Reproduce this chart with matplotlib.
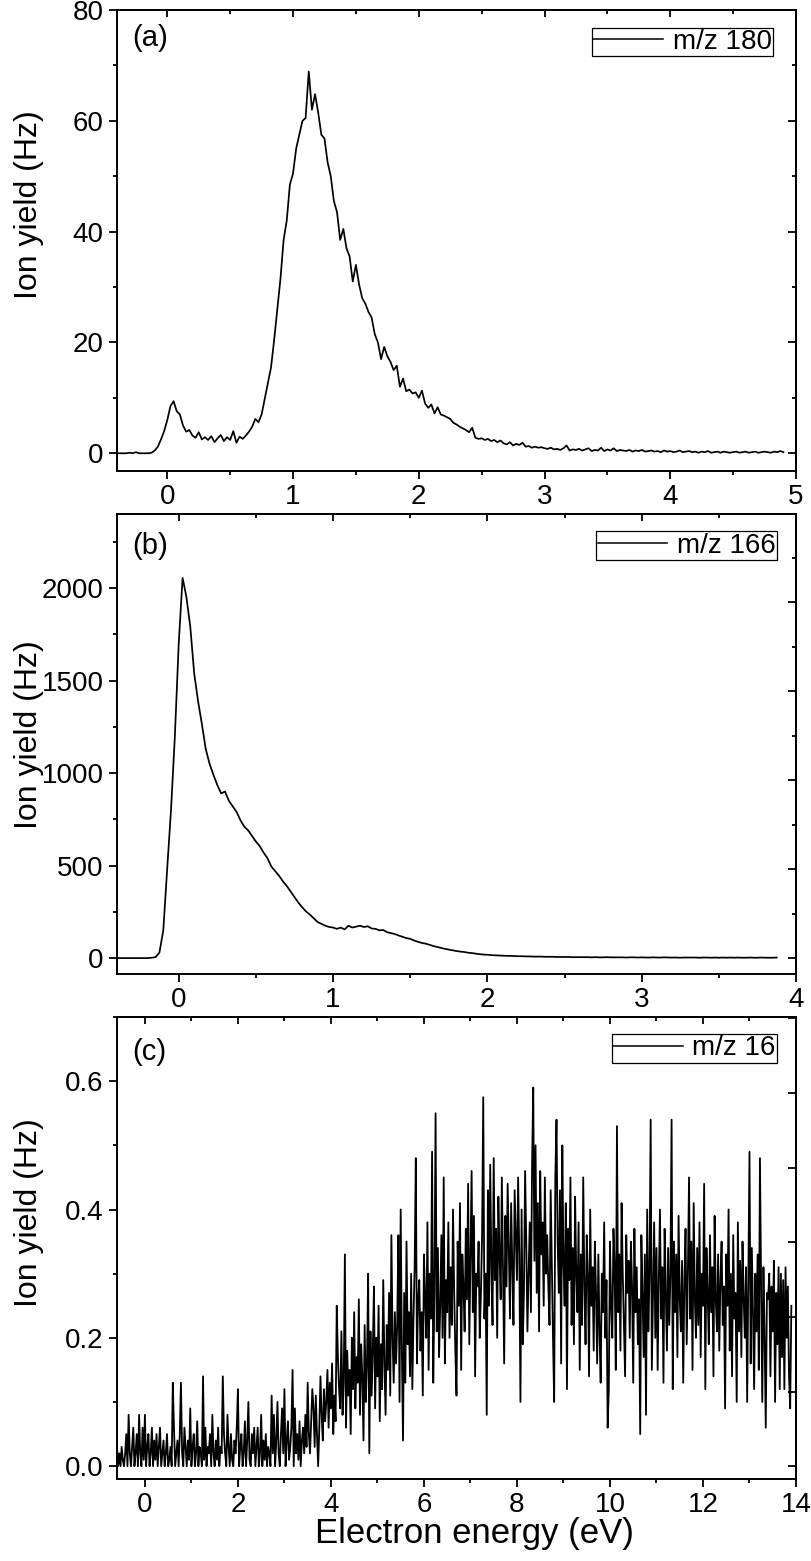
import numpy as np
import matplotlib
matplotlib.use('Agg')
import matplotlib.pyplot as plt
from matplotlib.ticker import MultipleLocator, NullFormatter

plt.rcParams['font.family'] = ['Liberation Sans', 'DejaVu Sans']

# ---------------- data ----------------
# panel (a): m/z 180, energy grid start/step (eV)
a_start, a_step = -0.4, 0.025
a_yield = [
    0, 0, 0, 0, 0.1, 0, 0.2, 0, 0, 0,
    0, 0.1, 0.5, 1.2, 2.5, 4.0, 6.0, 8.5, 9.4, 7.6,
    7.0, 5.0, 3.9, 4.2, 3.2, 2.8, 3.8, 2.5, 2.9, 2.4,
    3.1, 2.0, 2.7, 3.3, 2.2, 2.9, 2.4, 4.0, 1.9, 3.0,
    2.6, 3.2, 3.9, 4.8, 6.2, 5.6, 7.0, 9.8, 12.5, 15.5,
    20.5, 26.0, 31.5, 38.5, 42.0, 48.5, 50.5, 55.0, 57.5, 60.0,
    60.5, 68.9, 62.0, 64.8, 61.5, 57.5, 56.8, 52.5, 50.0, 45.5,
    43.5, 38.5, 40.5, 37.0, 35.5, 31.0, 34.0, 30.5, 28.0, 27.0,
    25.5, 24.5, 21.5, 20.0, 17.0, 19.2, 17.5, 16.5, 15.0, 15.8,
    12.0, 13.5, 11.2, 11.5, 10.8, 11.0, 10.0, 11.3, 9.0, 8.2,
    8.8, 7.2, 8.3, 7.0, 6.8, 6.5, 6.2, 5.5, 5.2, 4.8,
    4.5, 4.2, 3.8, 4.6, 2.8, 2.6, 2.7, 2.4, 2.6, 2.2,
    2.4, 2.0, 2.3, 1.8, 1.6, 2.0, 1.4, 1.7, 1.5, 1.9,
    1.2, 1.3, 1.0, 1.2, 1.0, 1.1, 0.9, 0.8, 1.0, 0.7,
    0.8, 0.6, 0.9, 1.4, 0.5, 0.7, 0.6, 0.8, 0.5, 0.7,
    0.9, 0.4, 0.6, 0.5, 1.0, 0.4, 0.7, 0.5, 0.9, 0.4,
    0.6, 0.5, 0.4, 0.6, 0.3, 0.5, 0.4, 0.6, 0.3, 0.4,
    0.5, 0.3, 0.4, 0.2, 0.5, 0.3, 0.4, 0.2, 0.3, 0.5,
    0.2, 0.3, 0.4, 0.2, 0.3, 0.1, 0.3, 0.2, 0.4, 0.1,
    0.2, 0.3, 0.1, 0.3, 0.2, 0.1, 0.2, 0.3, 0.1, 0.2,
    0.3, 0.1, 0.2, 0.3, 0.1, 0.2, 0.3, 0.2, 0.1, 0.3,
    0.2, 0.4, 0.2,
]

# panel (b): m/z 166
b_start, b_step = -0.4, 0.025
b_yield = [
    0, 0, 0, 0, 0, 0, 0, 0, 0, 2,
    5, 30, 150, 480, 800, 1200, 1700, 2055, 1950, 1790,
    1540, 1390, 1265, 1130, 1050, 990, 935, 890, 900, 850,
    820, 790, 745, 710, 690, 660, 630, 605, 570, 540,
    495, 470, 445, 415, 390, 360, 330, 300, 275, 252,
    235, 215, 195, 185, 175, 168, 165, 158, 165, 155,
    175, 165, 170, 175, 168, 172, 160, 158, 150, 152,
    140, 135, 130, 122, 115, 108, 104, 95, 88, 82,
    78, 72, 65, 60, 55, 50, 46, 42, 38, 35,
    33, 29, 27, 24, 21, 19, 18, 16, 15, 14,
    13, 12, 12, 11, 10, 10, 9, 9, 8, 8,
    8, 7, 7, 7, 6, 6, 6, 6, 5, 5,
    5, 5, 5, 4, 5, 4, 4, 5, 4, 4,
    4, 4, 3, 4, 4, 3, 4, 3, 3, 4,
    3, 3, 4, 3, 3, 3, 2, 3, 3, 3,
    3, 2, 3, 3, 2, 3, 2, 3, 2, 3,
    2, 3, 2, 2, 3, 2, 2, 3, 2, 2,
    2, 3,
]

# panel (c): m/z 16  (one row = 0.5 eV)
c_start, c_step = -0.6, 0.025
c_yield = [
    0.03, 0, 0.02, 0, 0.03, 0.01, 0, 0.02, 0.05, 0, 0.08, 0.02, 0, 0.03, 0.06, 0, 0.02, 0.05, 0, 0.08,
    0.02, 0, 0.06, 0.01, 0.08, 0, 0.03, 0.05, 0, 0.02, 0.06, 0, 0.04, 0.01, 0.05, 0, 0.03, 0.06, 0, 0.02,
    0.04, 0, 0.02, 0.05, 0, 0.01, 0.03, 0, 0.13, 0.06, 0, 0.02, 0.04, 0, 0.05, 0.13, 0.02, 0, 0.06, 0.03,
    0, 0.04, 0.01, 0.09, 0, 0.03, 0.05, 0, 0.02, 0.07, 0, 0.03, 0.02, 0, 0.14, 0.01, 0.06, 0, 0.03, 0.02,
    0.05, 0, 0.08, 0.02, 0, 0.04, 0.01, 0.06, 0, 0.03, 0.02, 0.14, 0.05, 0.02, 0, 0.08, 0.03, 0, 0.05, 0.01,
    0, 0.04, 0.02, 0.06, 0.12, 0, 0.03, 0.05, 0, 0.02, 0.07, 0, 0.04, 0.10, 0.01, 0, 0.05, 0.02, 0.06, 0,
    0.03, 0.06, 0, 0.02, 0.08, 0, 0.04, 0.01, 0.05, 0, 0.03, 0.02, 0, 0.11, 0.02, 0.08, 0, 0.04, 0.10, 0.02,
    0, 0.05, 0.09, 0.02, 0.12, 0, 0.04, 0.07, 0.01, 0.03, 0.06, 0.15, 0, 0.09, 0.02, 0.05, 0.01, 0.07, 0, 0.04,
    0.06, 0.02, 0.08, 0.03, 0.13, 0.05, 0.02, 0.07, 0.12, 0.09, 0.03, 0.11, 0.05, 0, 0.06, 0.14, 0.08, 0.04, 0.12, 0.07,
    0.10, 0.15, 0.06, 0.13, 0.09, 0.16, 0.05, 0.11, 0.07, 0.25, 0.17, 0.12, 0.09, 0.21, 0.08, 0.13, 0.33, 0.06, 0.18, 0.11,
    0.15, 0.05, 0.20, 0.12, 0.24, 0.09, 0.17, 0.13, 0.26, 0.08, 0.19, 0.14, 0.04, 0.22, 0.10, 0.16, 0.30, 0.02, 0.21, 0.11,
    0.18, 0.28, 0.09, 0.20, 0.14, 0.25, 0.07, 0.19, 0.12, 0.29, 0.16, 0.08, 0.22, 0.15, 0.27, 0.11, 0.36, 0.20, 0.13, 0.24,
    0.16, 0.22, 0.36, 0.10, 0.40, 0.18, 0.04, 0.27, 0.13, 0.35, 0.19, 0.24, 0.14, 0.30, 0.12, 0.23, 0.31, 0.48, 0.16, 0.26,
    0.29, 0.18, 0.24, 0.11, 0.33, 0.26, 0.20, 0.38, 0.15, 0.30, 0.23, 0.49, 0.13, 0.27, 0.55, 0.21, 0.34, 0.17, 0.25, 0.36,
    0.20, 0.45, 0.16, 0.29, 0.24, 0.38, 0.20, 0.31, 0.22, 0.40, 0.27, 0.18, 0.11, 0.35, 0.25, 0.41, 0.15, 0.33, 0.28, 0.21,
    0.37, 0.26, 0.44, 0.19, 0.32, 0.46, 0.24, 0.39, 0.14, 0.30, 0.28, 0.35, 0.20, 0.27, 0.36, 0.575, 0.23, 0.30, 0.08, 0.43,
    0.25, 0.47, 0.31, 0.22, 0.48, 0.29, 0.37, 0.20, 0.42, 0.33, 0.26, 0.45, 0.30, 0.16, 0.39, 0.28, 0.44, 0.34, 0.23, 0.41,
    0.31, 0.22, 0.43, 0.36, 0.29, 0.45, 0.33, 0.10, 0.40, 0.19, 0.27, 0.46, 0.35, 0.21, 0.30, 0.38, 0.24, 0.47, 0.59, 0.32,
    0.50, 0.27, 0.41, 0.21, 0.46, 0.33, 0.38, 0.25, 0.45, 0.30, 0.36, 0.28, 0.22, 0.43, 0.31, 0.20, 0.10, 0.45, 0.54, 0.35,
    0.27, 0.43, 0.16, 0.50, 0.32, 0.25, 0.41, 0.12, 0.37, 0.29, 0.45, 0.22, 0.34, 0.19, 0.42, 0.30, 0.24, 0.38, 0.15, 0.33,
    0.22, 0.45, 0.28, 0.19, 0.36, 0.30, 0.14, 0.40, 0.25, 0.31, 0.18, 0.35, 0.27, 0.16, 0.33, 0.21, 0.13, 0.30, 0.24, 0.38,
    0.20, 0.29, 0.06, 0.12, 0.35, 0.25, 0.20, 0.37, 0.31, 0.15, 0.53, 0.24, 0.33, 0.18, 0.41, 0.30, 0.22, 0.14, 0.36, 0.27,
    0.32, 0.20, 0.35, 0.28, 0.13, 0.37, 0.24, 0.31, 0.19, 0.26, 0.05, 0.36, 0.27, 0.17, 0.33, 0.08, 0.40, 0.21, 0.30, 0.54,
    0.15, 0.26, 0.38, 0.20, 0.34, 0.15, 0.29, 0.40, 0.23, 0.31, 0.13, 0.37, 0.27, 0.18, 0.34, 0.22, 0.30, 0.54, 0.12, 0.35,
    0.24, 0.33, 0.17, 0.39, 0.26, 0.21, 0.32, 0.13, 0.29, 0.37, 0.19, 0.30, 0.45, 0.23, 0.35, 0.15, 0.41, 0.26, 0.20, 0.34,
    0.22, 0.38, 0.17, 0.30, 0.25, 0.44, 0.12, 0.34, 0.27, 0.19, 0.36, 0.24, 0.31, 0.14, 0.39, 0.26, 0.21, 0.33, 0.18, 0.29,
    0.35, 0.22, 0.28, 0.09, 0.33, 0.25, 0.40, 0.18, 0.30, 0.14, 0.36, 0.23, 0.27, 0.10, 0.38, 0.21, 0.32, 0.17, 0.35, 0.26,
    0.20, 0.31, 0.10, 0.29, 0.49, 0.16, 0.34, 0.24, 0.12, 0.30, 0.21, 0.33, 0.15, 0.48, 0.28, 0.10, 0.31, 0.20, 0.06, 0.27,
    0.26, 0.30, 0.14, 0.28, 0.21, 0.32, 0.10, 0.27, 0.19, 0.31, 0.12, 0.30, 0.17, 0.29, 0.12, 0.31, 0.20, 0.28, 0.14, 0.09,
    0.25,
]

legend_labels = ['m/z 180', 'm/z 166', 'm/z 16']
panel_tags = ['(a)', '(b)', '(c)']
y_label = 'Ion yield (Hz)'
x_label = 'Electron energy (eV)'

# ---------------- figure ----------------
W, H = 812, 1561
fig = plt.figure(figsize=(W / 100, H / 100), dpi=100)


def make_axes(left, right, top, bottom):
    return fig.add_axes([left / W, 1 - bottom / H, (right - left) / W, (bottom - top) / H])


ax_a = make_axes(117, 796, 10, 471)
ax_b = make_axes(117, 796, 514, 974)
ax_c = make_axes(117, 796, 1017, 1479)

TICK_FS = 20
LW_SPINE = 1.4


def style(ax, xmaj, xmin, ymaj, ymin, right_scale, rmaj, rmin):
    for s in ax.spines.values():
        s.set_linewidth(LW_SPINE)
    ax.xaxis.set_major_locator(MultipleLocator(xmaj))
    ax.xaxis.set_minor_locator(MultipleLocator(xmin))
    ax.yaxis.set_major_locator(MultipleLocator(ymaj))
    ax.yaxis.set_minor_locator(MultipleLocator(ymin))
    ax.tick_params(which='both', direction='out', top=False, right=False,
                   width=1.3, labelsize=TICK_FS)
    ax.tick_params(which='major', length=5.5, pad=4)
    ax.tick_params(which='minor', length=2.8)
    # top: inward ticks, no labels
    sx = ax.secondary_xaxis('top')
    sx.xaxis.set_major_locator(MultipleLocator(xmaj))
    sx.xaxis.set_minor_locator(MultipleLocator(xmin))
    sx.xaxis.set_major_formatter(NullFormatter())
    sx.tick_params(which='both', direction='in', width=1.3)
    sx.tick_params(which='major', length=5.0)
    sx.tick_params(which='minor', length=2.8)
    sx.spines['top'].set_linewidth(LW_SPINE)
    # right: inward ticks, no labels
    sy = ax.secondary_yaxis('right', functions=(lambda v: v / right_scale,
                                                lambda v: v * right_scale))
    sy.yaxis.set_major_locator(MultipleLocator(rmaj))
    if rmin:
        sy.yaxis.set_minor_locator(MultipleLocator(rmin))
    sy.yaxis.set_major_formatter(NullFormatter())
    sy.tick_params(which='both', direction='in', width=1.3)
    sy.tick_params(which='major', length=5.5)
    sy.tick_params(which='minor', length=2.8)
    sy.spines['right'].set_linewidth(LW_SPINE)


def draw(ax, start, step, values, label, tag, tag_y, leg_anchor, ylab_y, lw):
    vals = np.asarray(values, dtype=float)
    energy = start + step * np.arange(len(vals))
    ax.plot(energy, vals, color='black', lw=lw, label=label)
    leg = ax.legend(loc='upper right', bbox_to_anchor=leg_anchor, frameon=True,
                    fancybox=False, edgecolor='black', framealpha=1,
                    fontsize=20, handlelength=2.5, handletextpad=0.35,
                    borderpad=0.05, borderaxespad=0)
    leg.get_frame().set_linewidth(0.9)
    for h in leg.get_lines():
        h.set_linewidth(1.1)
    ax.text(0.022, tag_y, tag, transform=ax.transAxes, fontsize=21,
            ha='left', va='center')
    ax.set_ylabel(y_label, fontsize=23)
    ax.yaxis.set_label_coords(-0.108, ylab_y)


draw(ax_a, a_start, a_step, a_yield, legend_labels[0], panel_tags[0], 0.940,
     (0.966, 0.962), 0.577, 1.25)
ax_a.set_xlim(-0.4, 5)
ax_a.set_ylim(-3.2, 80)
style(ax_a, 1, 0.5, 20, 10, 1.0, 20, 10)

draw(ax_b, b_start, b_step, b_yield, legend_labels[1], panel_tags[1], 0.930,
     (0.972, 0.962), 0.52, 1.25)
ax_b.set_xlim(-0.4, 4)
ax_b.set_ylim(-86, 2400)
style(ax_b, 1, 0.5, 500, 250, 0.962, 500, 250)

draw(ax_c, c_start, c_step, c_yield, legend_labels[2], panel_tags[2], 0.925,
     (0.972, 0.963), 0.576, 1.3)
ax_c.set_xlim(-0.6, 14)
ax_c.set_ylim(-0.02, 0.70)
style(ax_c, 2, 1, 0.2, 0.1, 1.163, 0.1, None)
ax_c.set_xlabel(x_label, fontsize=25)
ax_c.xaxis.set_label_coords(0.526, -0.083)

fig.savefig('out.png', dpi=100)
